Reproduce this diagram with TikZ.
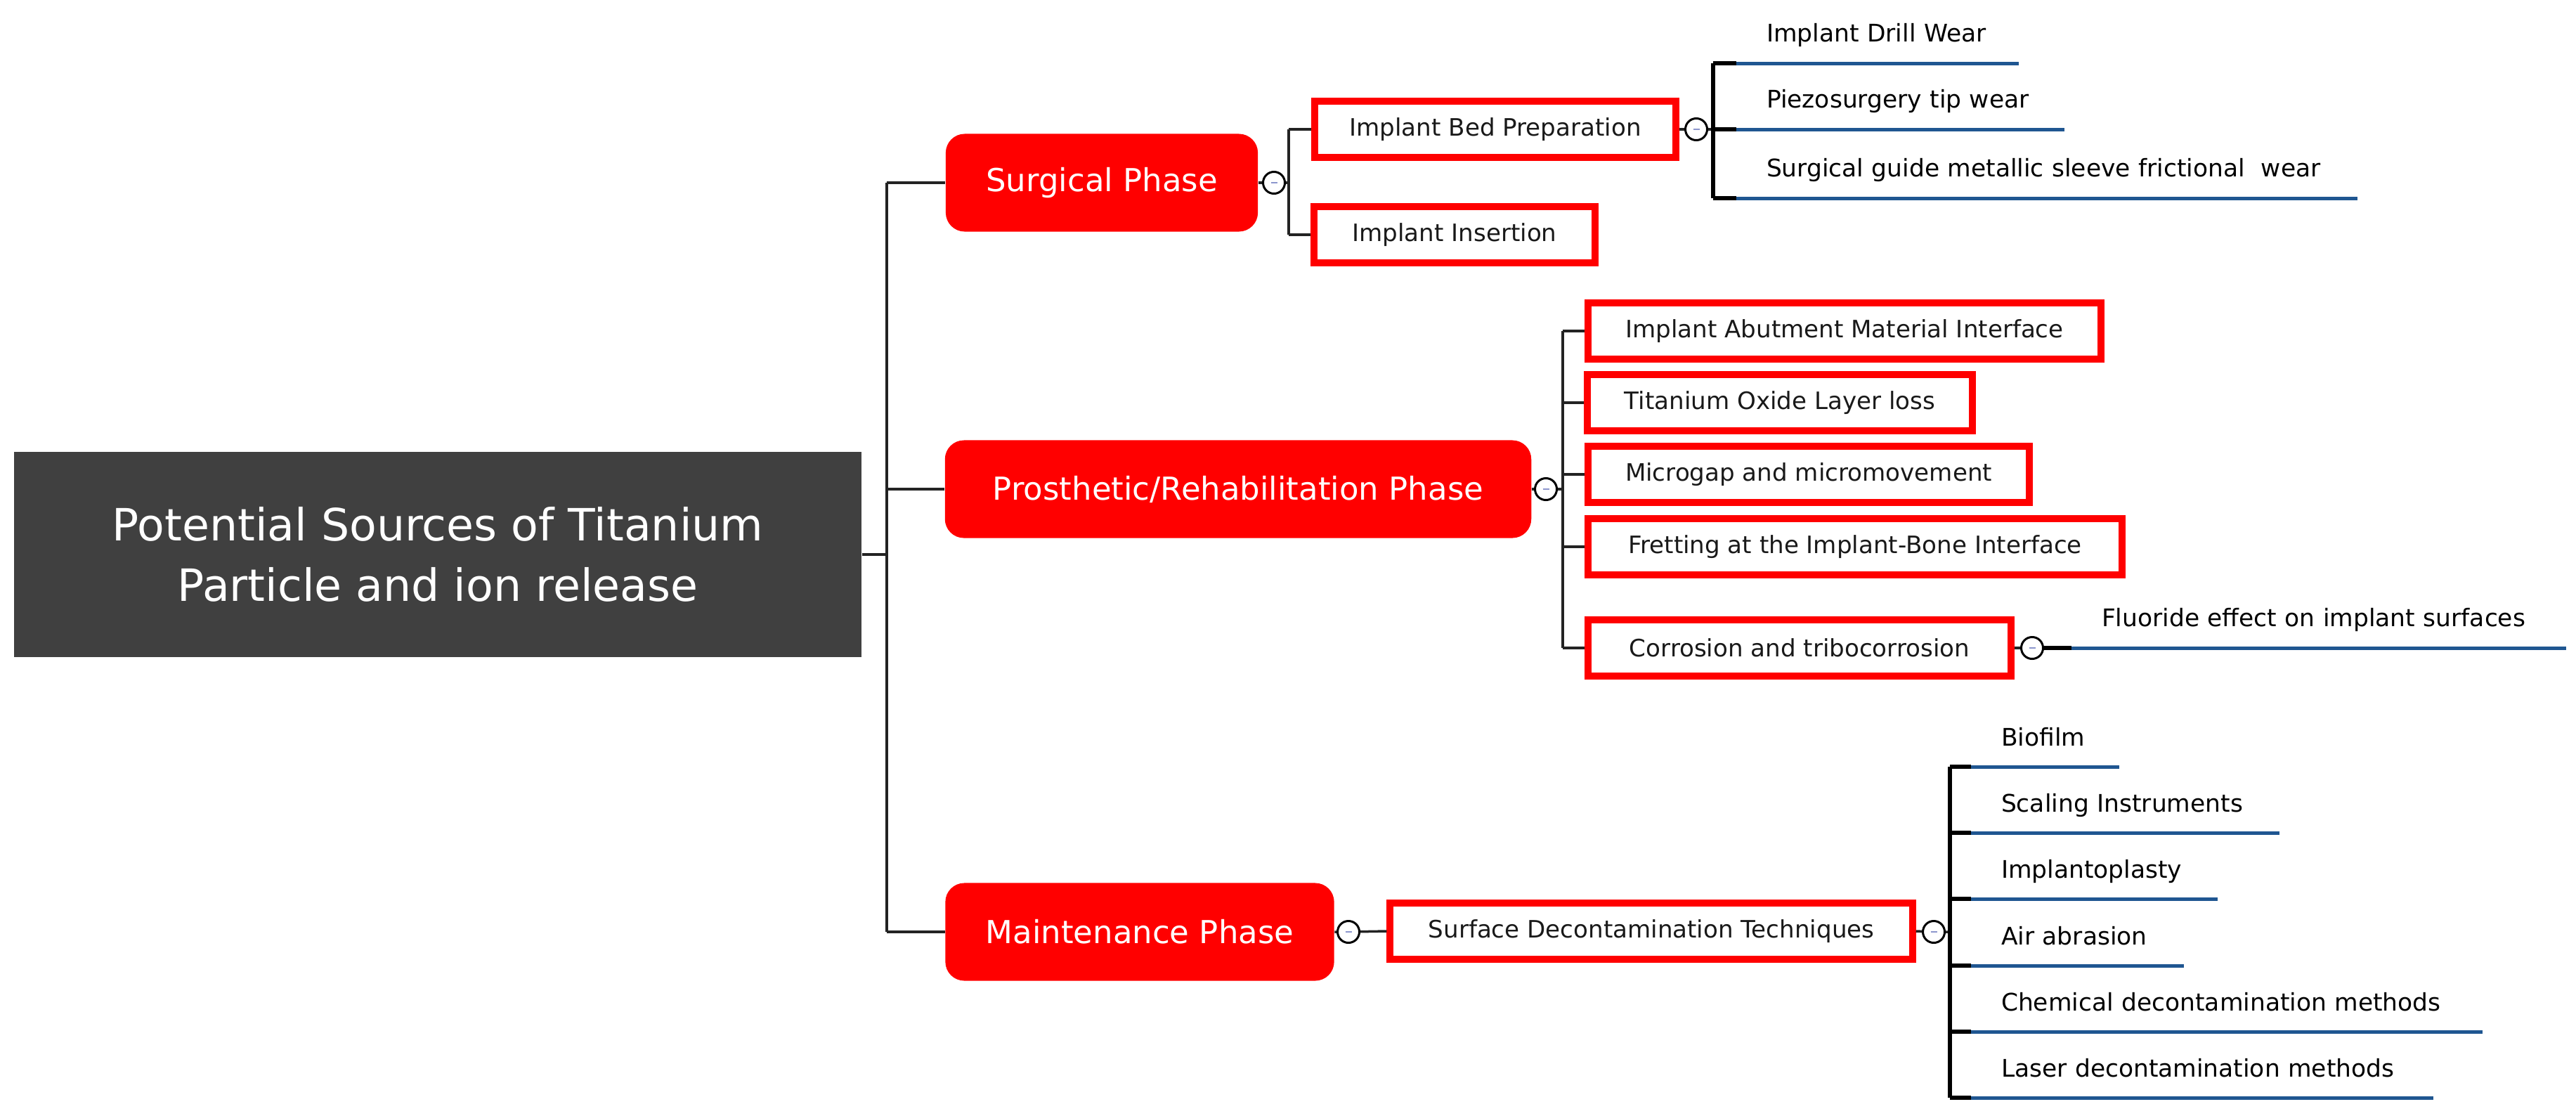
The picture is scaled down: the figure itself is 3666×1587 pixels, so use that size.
\documentclass[tikz,border=0pt]{standalone}
\usepackage{fontspec}
\setmainfont{DejaVu Sans}

\definecolor{rootgray}{RGB}{64,64,64}
\definecolor{leafblue}{RGB}{31,86,145}
\definecolor{minusblue}{RGB}{140,150,205}
\definecolor{linkgray}{RGB}{35,35,35}

\newcommand{\rootfont}{\fontsize{18}{24.5}\selectfont}
\newcommand{\phasefont}{\fontsize{12.8}{15}\selectfont}
\newcommand{\itemfont}{\fontsize{9.7}{12}\selectfont}
\newcommand{\leaffont}{\fontsize{9.8}{12}\selectfont}
\newcommand{\togglemark}{\textcolor{minusblue}{\rule{0.9mm}{0.2mm}}}

\begin{document}
\begin{tikzpicture}[x=0.01cm, y=-0.01cm,
  rootbox/.style={fill=rootgray, text=white, font=\rootfont, align=center,
    inner sep=0pt, minimum width=120.6mm, minimum height=29.2mm},
  phase/.style={fill=red, text=white, font=\phasefont, rounded corners=2.7mm,
    inner sep=0pt, minimum height=13.9mm},
  item/.style={draw=red, line width=1mm, fill=white, text=black!90,
    font=\itemfont, inner sep=0pt, minimum height=8mm},
  toggle/.style={circle, draw=black, line width=0.3mm, fill=white,
    inner sep=0pt, minimum size=3.1mm},
  leaf/.style={anchor=south west, inner xsep=0pt, inner ysep=2.1mm, outer sep=0pt,
    text depth=0.9mm, align=left, font=\leaffont,
    execute at begin node=\hspace*{4.3mm}},
  link/.style={draw=linkgray, line width=0.35mm},
  stub/.style={draw=black, line width=0.6mm},
  leafline/.style={draw=leafblue, line width=0.5mm},
]
  \useasboundingbox (0,0) rectangle (3666,1587);

  % Root
  \node[rootbox] (root) at (623,789) {Potential Sources of Titanium\\Particle and ion release};

  % Phases
  \node[phase, minimum width=44.4mm] (surg) at (1568,260) {Surgical Phase};
  \node[phase, minimum width=83.4mm] (pros) at (1762,696) {Prosthetic/Rehabilitation Phase};
  \node[phase, minimum width=55.3mm] (maint) at (1622,1326) {Maintenance Phase};

  % Main trunk
  \coordinate (trunk) at (1262,789);
  \draw[link] (root.east) -- (trunk);
  \draw[link] (trunk |- surg) -- (trunk |- maint);
  \draw[link] (trunk |- surg) -- (surg.west) (trunk |- pros) -- (pros.west)
    (trunk |- maint) -- (maint.west);

  % Surgical phase
  \node[toggle] (tSurg) at (1813,260) {\togglemark};
  \coordinate (sSurg) at (1834,260);
  \node[item, minimum width=51.4mm] (bed) at (2128,184) {Implant Bed Preparation};
  \node[item, minimum width=39.9mm] (insert) at (2070,334) {Implant Insertion};
  \draw[link] (surg.east) -- (tSurg) -- (sSurg);
  \draw[link] (sSurg |- bed) -- (sSurg |- insert);
  \draw[link] (sSurg |- bed) -- (bed.west) (sSurg |- insert) -- (insert.west);

  % Implant bed preparation leaves
  \node[toggle] (tBed) at (2414,184) {\togglemark};
  \coordinate (lBed) at (2438,184);
  \node[leaf, text width=40.2mm] (drill) at (2471,90) {Implant Drill Wear};
  \node[leaf, text width=46.7mm] (piezo) at (2471,184) {Piezosurgery tip wear};
  \node[leaf, text width=88.3mm] (guide) at (2471,282) {Surgical guide metallic sleeve frictional\ \ wear};
  \draw[link] (bed.east) -- (tBed) -- (lBed);
  \draw[stub] (lBed |- drill.south) -- (lBed |- guide.south);
  \draw[stub] (lBed |- drill.south) -- (drill.south west) (lBed |- piezo.south) -- (piezo.south west)
    (lBed |- guide.south) -- (guide.south west);
  \draw[leafline] (drill.south west) -- (drill.south east) (piezo.south west) -- (piezo.south east)
    (guide.south west) -- (guide.south east);

  % Prosthetic phase
  \node[toggle] (tPros) at (2200,696) {\togglemark};
  \coordinate (sPros) at (2224,696);
  \node[item, minimum width=73.0mm] (abut) at (2625,471) {Implant Abutment Material Interface};
  \node[item, minimum width=54.7mm] (oxide) at (2533,573) {Titanium Oxide Layer loss};
  \node[item, minimum width=62.8mm] (gap) at (2574,675) {Microgap and micromovement};
  \node[item, minimum width=76.0mm] (fret) at (2640,778) {Fretting at the Implant-Bone Interface};
  \node[item, minimum width=60.2mm] (corr) at (2561,922) {Corrosion and tribocorrosion};
  \draw[link] (pros.east) -- (tPros) -- (sPros);
  \draw[link] (sPros |- abut) -- (sPros |- corr);
  \draw[link] (sPros |- abut) -- (abut.west) (sPros |- oxide) -- (oxide.west)
    (sPros |- gap) -- (gap.west) (sPros |- fret) -- (fret.west) (sPros |- corr) -- (corr.west);

  % Corrosion leaf
  \node[toggle] (tCorr) at (2892,922) {\togglemark};
  \node[leaf, text width=70.4mm] (fluor) at (2948,922) {Fluoride effect on implant surfaces};
  \draw[link] (corr.east) -- (tCorr);
  \draw[stub] (tCorr) -- (fluor.south west);
  \draw[leafline] (fluor.south west) -- (fluor.south east);

  % Maintenance phase
  \node[toggle] (tMaint) at (1919,1326) {\togglemark};
  \node[item, minimum width=74.3mm] (surf) at (2350,1325) {Surface Decontamination Techniques};
  \draw[link] (maint.east) -- (tMaint) -- (surf.west);

  % Decontamination leaves
  \node[toggle] (tSurf) at (2752,1326) {\togglemark};
  \coordinate (lSurf) at (2775,1326);
  \node[leaf, text width=21.1mm] (bio) at (2805,1091) {Biofilm};
  \node[leaf, text width=43.9mm] (scal) at (2805,1185) {Scaling Instruments};
  \node[leaf, text width=35.1mm] (plasty) at (2805,1279) {Implantoplasty};
  \node[leaf, text width=30.3mm] (air) at (2805,1374) {Air abrasion};
  \node[leaf, text width=72.8mm] (chem) at (2805,1468) {Chemical decontamination methods};
  \node[leaf, text width=65.8mm] (laser) at (2805,1562) {Laser decontamination methods};
  \draw[link] (surf.east) -- (tSurf) -- (lSurf);
  \draw[stub] (lSurf |- bio.south) -- (lSurf |- laser.south);
  \draw[stub] (lSurf |- bio.south) -- (bio.south west) (lSurf |- scal.south) -- (scal.south west)
    (lSurf |- plasty.south) -- (plasty.south west) (lSurf |- air.south) -- (air.south west)
    (lSurf |- chem.south) -- (chem.south west) (lSurf |- laser.south) -- (laser.south west);
  \draw[leafline] (bio.south west) -- (bio.south east) (scal.south west) -- (scal.south east)
    (plasty.south west) -- (plasty.south east) (air.south west) -- (air.south east)
    (chem.south west) -- (chem.south east) (laser.south west) -- (laser.south east);
\end{tikzpicture}
\end{document}
